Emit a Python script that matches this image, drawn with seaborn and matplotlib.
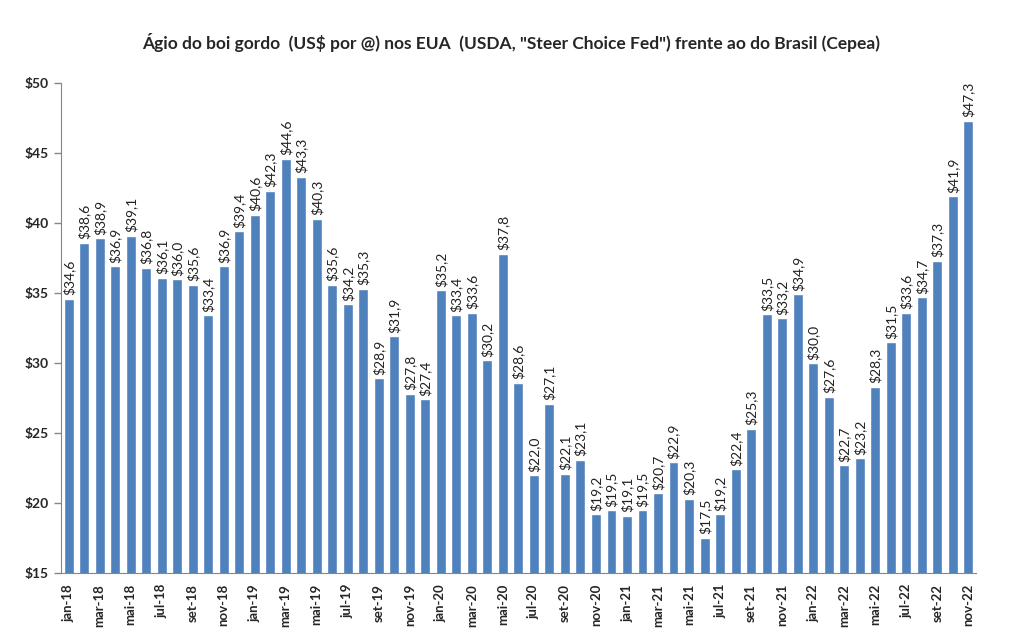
import numpy as np
import pandas as pd
import matplotlib
matplotlib.use("Agg")
import matplotlib.pyplot as plt
import seaborn as sns

sns.set_style("white")
plt.rcParams['font.family'] = ['Lato', 'DejaVu Sans']

meses = ['jan', 'fev', 'mar', 'abr', 'mai', 'jun', 'jul', 'ago', 'set', 'out', 'nov', 'dez']
anos = ['18', '19', '20', '21', '22']
categorias = [f"{m}-{a}" for a in anos for m in meses][:59]

valores = [34.6, 38.6, 38.9, 36.9, 39.1, 36.8, 36.1, 36.0, 35.6, 33.4, 36.9, 39.4,
           40.6, 42.3, 44.6, 43.3, 40.3, 35.6, 34.2, 35.3, 28.9, 31.9, 27.8, 27.4,
           35.2, 33.4, 33.6, 30.2, 37.8, 28.6, 22.0, 27.1, 22.1, 23.1, 19.2, 19.5,
           19.1, 19.5, 20.7, 22.9, 20.3, 17.5, 19.2, 22.4, 25.3, 33.5, 33.2, 34.9,
           30.0, 27.6, 22.7, 23.2, 28.3, 31.5, 33.6, 34.7, 37.3, 41.9, 47.3]

df = pd.DataFrame({'mes': categorias, 'agio': valores})

fig = plt.figure(figsize=(10.13, 6.32), dpi=100)
ax = fig.add_axes([0.060, 0.0934, 0.9035, 0.7753])

sns.barplot(data=df, x='mes', y='agio', color='#4F81BD', saturation=1,
            width=0.64, ax=ax)

rotulos = [f"${v:.1f}".replace('.', ',') for v in valores]
ax.bar_label(ax.containers[0], labels=rotulos, rotation=90, padding=2.5,
             fontsize=10, color='#202020')

ax.set_ylim(15, 50)
ax.set_xlim(-0.5, len(valores) - 0.5)
ax.set_yticks(range(15, 51, 5))
ax.set_yticklabels([f"${v}" for v in range(15, 51, 5)], fontsize=10, fontweight='bold')

# rótulos a cada 2 meses, marcas nas divisões
ax.set_xticks(range(0, len(valores), 2))
ax.set_xticklabels(categorias[::2], rotation=90, fontsize=9.5, fontweight='bold')
ax.set_xticks(np.arange(-0.5, len(valores), 2), minor=True)
ax.tick_params(axis='x', which='major', length=0, pad=8)
ax.tick_params(axis='x', which='minor', length=5, color='#868686', width=1)
ax.tick_params(axis='y', length=5, color='#868686', width=1, left=True)

ax.set_xlabel('')
ax.set_ylabel('')
for lado in ['top', 'right']:
    ax.spines[lado].set_visible(False)
for lado in ['left', 'bottom']:
    ax.spines[lado].set_color('#868686')

fig.text(0.505, 0.932, 'Ágio do boi gordo  (US$ por @) nos EUA  (USDA, "Steer Choice Fed") frente ao do Brasil (Cepea)',
         ha='center', va='center', fontsize=12.5, fontweight='bold')

fig.savefig('out.png', dpi=100)
